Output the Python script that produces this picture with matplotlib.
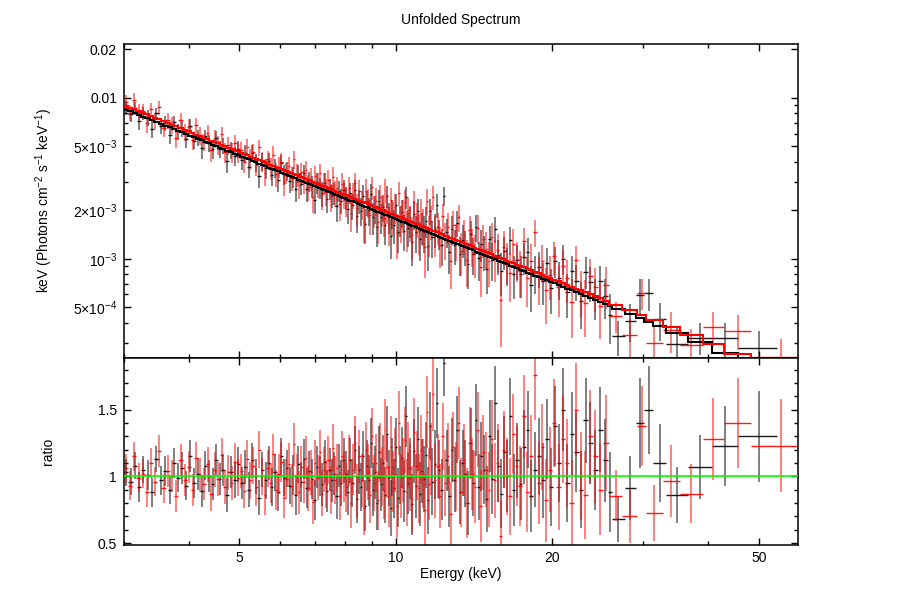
import matplotlib
matplotlib.use("Agg")
import matplotlib.pyplot as plt
from matplotlib.ticker import FixedLocator, FixedFormatter, LogLocator, MultipleLocator, NullFormatter
import numpy as np

plt.rcParams['font.family'] = ['Liberation Sans', 'DejaVu Sans']
plt.rcParams['mathtext.fontset'] = 'custom'
plt.rcParams['mathtext.rm'] = 'Liberation Sans'
plt.rcParams['mathtext.it'] = 'Liberation Sans:italic'
plt.rcParams['mathtext.bf'] = 'Liberation Sans:bold'
plt.rcParams['font.size'] = 10

# --- data ---
# black spectrum: bin edges (keV), data/model ratio, ratio error
blk_edges = [3.00, 3.06, 3.12, 3.18, 3.24, 3.30, 3.36, 3.43, 3.50, 3.57, 3.64, 3.71, 3.78, 3.85, 3.92,
             3.99, 4.06, 4.13, 4.20, 4.27, 4.34, 4.41, 4.48, 4.55, 4.62, 4.70, 4.78, 4.86, 4.94,
             5.02, 5.10, 5.18, 5.26, 5.34, 5.42, 5.50, 5.58, 5.66, 5.74, 5.82, 5.90, 5.98,
             6.06, 6.14, 6.22, 6.30, 6.38, 6.46, 6.54, 6.62, 6.70, 6.78, 6.86, 6.94,
             7.02, 7.10, 7.18, 7.26, 7.34, 7.42, 7.50, 7.58, 7.66, 7.74, 7.82, 7.90,
             7.98, 8.06, 8.14, 8.22, 8.30, 8.38, 8.46, 8.54, 8.62, 8.70, 8.78, 8.86, 8.94,
             9.02, 9.10, 9.18, 9.26, 9.34, 9.42, 9.50, 9.58, 9.66, 9.74, 9.82, 9.90, 9.98,
             10.07, 10.16, 10.25, 10.34, 10.43, 10.52, 10.61, 10.70, 10.80, 10.90, 11.00, 11.10,
             11.20, 11.30, 11.40, 11.50, 11.61, 11.72, 11.83, 11.94,
             12.05, 12.19, 12.33, 12.47, 12.62, 12.77, 12.92, 13.07, 13.22, 13.38, 13.54, 13.70,
             13.86, 14.02, 14.19, 14.36, 14.53, 14.71, 14.89, 15.07, 15.26, 15.45, 15.65, 15.85,
             16.06, 16.28, 16.51, 16.75, 17.0, 17.26, 17.53, 17.81, 18.1, 18.4, 18.71, 19.03,
             19.36, 19.7, 20.05, 20.42, 20.8, 21.2, 21.62, 22.05, 22.5, 22.97, 23.46, 23.97,
             24.5, 25.05, 25.6,
             26.1, 27.6, 29.0, 30.1, 31.3, 33.2, 36.5, 40.6, 45.7, 54.2]
blk_ratio = [1.03, 0.96, 1.08, 0.92, 1.05, 1.01, 0.88, 1.13, 0.97, 1.04, 0.90, 1.10, 0.99, 1.06, 0.93,
             1.15, 0.95, 1.02, 0.89, 1.08, 1.00, 0.94, 1.12, 0.98, 1.05, 0.86, 1.03, 0.97, 1.09,
             0.95, 1.07, 0.90, 1.12, 1.00, 0.84, 1.05, 0.97, 1.10, 0.92, 1.03, 0.88, 1.15, 0.99,
             1.06, 0.93, 1.01, 0.86, 1.09, 0.96, 1.13, 0.91, 1.04, 0.98, 0.82, 1.07, 1.00, 0.94,
             1.11, 0.89, 1.05, 0.97, 1.02, 0.85, 1.08, 0.95, 1.12,
             1.02, 0.88, 1.12, 0.95, 1.20, 0.83, 1.05, 0.92, 1.15, 0.78, 1.08, 0.97, 1.25, 0.90,
             1.03, 0.80, 1.18, 0.94, 1.10, 0.86, 1.32, 0.99, 0.76, 1.07, 0.91, 1.22, 0.84, 1.01,
             1.14, 0.89, 1.45, 0.95, 1.06, 0.79, 1.19, 0.93, 1.28, 0.87, 1.04, 0.98, 1.16, 0.82,
             1.38, 0.96, 1.09, 1.55,
             1.05, 0.90, 1.85, 1.12, 0.85, 1.20, 0.97, 1.35, 0.88, 1.10, 1.02, 0.80, 1.25, 0.95,
             1.42, 0.92, 1.15, 1.05, 0.83, 1.30, 0.98, 1.55, 1.08, 0.87, 1.18, 1.00, 1.45, 0.90,
             1.12, 0.94, 1.22, 1.35, 0.85, 1.05, 1.15, 0.97, 1.28, 0.92, 1.38, 1.10, 1.50, 0.95,
             1.32, 1.18, 0.90, 1.42, 1.25, 1.05, 1.35, 1.12, 0.88,
             0.68, 0.91, 1.40, 1.50, 1.10, 0.86, 1.07, 1.23, 1.30]
blk_err = [0.10, 0.10, 0.10, 0.11, 0.10, 0.11, 0.11, 0.10, 0.11, 0.11, 0.11, 0.11, 0.11, 0.12, 0.11,
           0.12, 0.11, 0.12, 0.12, 0.11, 0.12, 0.12, 0.12, 0.12, 0.12, 0.13, 0.12, 0.13, 0.13,
           0.12, 0.13, 0.13, 0.13, 0.13, 0.13, 0.13, 0.14, 0.13, 0.14, 0.14, 0.14, 0.14, 0.14,
           0.14, 0.14, 0.15, 0.15, 0.14, 0.15, 0.15, 0.15, 0.15, 0.15, 0.15, 0.16, 0.15, 0.16,
           0.16, 0.16, 0.16, 0.16, 0.16, 0.17, 0.16, 0.17, 0.17,
           0.17, 0.17, 0.17, 0.18, 0.18, 0.18, 0.18, 0.18, 0.19, 0.19, 0.19, 0.19, 0.19, 0.20,
           0.20, 0.20, 0.20, 0.20, 0.21, 0.21, 0.21, 0.21, 0.21, 0.22, 0.22, 0.22, 0.22, 0.22,
           0.23, 0.23, 0.23, 0.23, 0.23, 0.23, 0.24, 0.24, 0.24, 0.24, 0.24, 0.25, 0.25, 0.25,
           0.25, 0.25, 0.26, 0.26,
           0.22, 0.23, 0.25, 0.23, 0.23, 0.24, 0.24, 0.25, 0.24, 0.25, 0.25, 0.24, 0.26, 0.25,
           0.27, 0.25, 0.26, 0.26, 0.25, 0.27, 0.26, 0.28, 0.27, 0.26, 0.27, 0.27, 0.29, 0.27,
           0.28, 0.27, 0.28, 0.29, 0.27, 0.28, 0.29, 0.28, 0.30, 0.29, 0.30, 0.29, 0.31, 0.29,
           0.31, 0.30, 0.29, 0.32, 0.31, 0.30, 0.32, 0.31, 0.30,
           0.17, 0.24, 0.34, 0.33, 0.29, 0.21, 0.24, 0.30, 0.34]

# red spectrum
red_edges = [3.00, 3.05, 3.11, 3.17, 3.23, 3.29, 3.35, 3.41, 3.47, 3.54, 3.61, 3.68, 3.75, 3.82, 3.89,
             3.96, 4.03, 4.10, 4.17, 4.24, 4.31, 4.38, 4.45, 4.52, 4.59, 4.66, 4.73, 4.80, 4.87, 4.94,
             5.01, 5.08, 5.15, 5.22, 5.29, 5.36, 5.43, 5.50, 5.57, 5.64, 5.71, 5.78, 5.85, 5.92,
             5.99, 6.06, 6.13, 6.20, 6.27, 6.34, 6.41, 6.48, 6.55, 6.62, 6.69, 6.76, 6.83, 6.90,
             6.97, 7.04, 7.11, 7.18, 7.25, 7.32, 7.39, 7.46, 7.53, 7.60, 7.68, 7.76, 7.84, 7.92,
             8.00, 8.08, 8.16, 8.24, 8.32, 8.40, 8.48, 8.56, 8.64, 8.72, 8.80, 8.88, 8.96, 9.04,
             9.12, 9.20, 9.28, 9.36, 9.44, 9.52, 9.60, 9.68, 9.76, 9.84, 9.92, 10.00, 10.09, 10.18,
             10.27, 10.36, 10.45, 10.54, 10.63, 10.72, 10.82, 10.92, 11.02, 11.12, 11.22, 11.32,
             11.42, 11.53, 11.64, 11.75, 11.86,
             11.97, 12.11, 12.25, 12.39, 12.54, 12.69, 12.84, 12.99, 13.15, 13.31, 13.47, 13.63,
             13.79, 13.96, 14.13, 14.30, 14.48, 14.66, 14.84, 15.03, 15.22, 15.42, 15.62, 15.83,
             16.04, 16.26, 16.49, 16.73, 16.98, 17.24, 17.51, 17.79, 18.08, 18.38, 18.69, 19.01,
             19.34, 19.68, 20.03, 20.4, 20.78, 21.18, 21.6, 22.03, 22.48, 22.95, 23.44, 23.95,
             24.48, 25.02,
             25.8, 27.3, 29.2, 30.3, 32.7, 35.2, 39.0, 42.8, 48.4, 62.0]
red_ratio = [1.06, 0.93, 1.15, 0.99, 1.02, 0.88, 1.10, 0.96, 1.19, 0.91, 1.04, 1.00, 0.85, 1.12, 0.97,
             1.07, 0.90, 1.14, 1.01, 0.94, 1.09, 0.87, 1.05, 0.98, 1.16, 0.92, 1.03, 0.95, 1.11, 0.99,
             1.04, 0.89, 1.13, 0.97, 1.08, 0.92, 1.20, 1.00, 0.86, 1.06, 0.95, 1.17, 0.90, 1.02,
             1.11, 0.84, 0.98, 1.09, 0.93, 1.24, 1.01, 0.88, 1.07, 0.96, 1.14, 0.91, 1.03, 0.81,
             1.10, 0.99, 1.18, 0.87, 1.05, 0.94, 1.12, 0.90, 1.21, 0.97, 1.06, 0.85, 1.15, 1.00,
             0.92, 1.12, 0.80, 1.05, 1.25, 0.89, 1.15, 0.97, 0.76, 1.20, 1.03, 0.86, 1.30, 0.95,
             1.10, 0.82, 1.18, 1.00, 0.90, 1.35, 1.07, 0.85, 1.22, 0.96, 1.12, 0.78, 1.40, 0.93,
             1.05, 1.27, 0.88, 1.16, 0.99, 0.83, 1.33, 1.08, 0.91, 1.20, 1.02, 0.75, 1.48, 0.94,
             1.13, 1.62, 0.97,
             1.08, 0.85, 1.30, 0.95, 1.15, 0.72, 1.22, 1.00, 1.40, 0.88, 1.12, 0.80, 1.25, 1.02,
             0.92, 1.35, 0.78, 1.18, 1.05, 0.90, 1.28, 0.97, 1.10, 0.55, 1.20, 1.00, 0.85, 1.32,
             1.08, 0.93, 1.45, 0.88, 1.15, 1.76, 0.95, 1.22, 0.82, 1.05, 1.40, 0.92, 1.28, 1.10,
             0.80, 1.50, 1.00, 0.86, 1.30, 1.15, 0.90, 1.25,
             0.855, 0.70, 1.38, 0.725, 0.965, 0.87, 1.28, 1.40, 1.23]
red_err = [0.11, 0.11, 0.11, 0.11, 0.11, 0.11, 0.11, 0.11, 0.12, 0.11, 0.12, 0.12, 0.12, 0.12, 0.12,
           0.12, 0.12, 0.12, 0.13, 0.12, 0.13, 0.13, 0.13, 0.13, 0.13, 0.13, 0.13, 0.13, 0.14, 0.14,
           0.13, 0.13, 0.14, 0.14, 0.14, 0.14, 0.14, 0.14, 0.15, 0.14, 0.15, 0.15, 0.15, 0.15,
           0.15, 0.15, 0.15, 0.16, 0.16, 0.16, 0.16, 0.16, 0.16, 0.16, 0.16, 0.17, 0.17, 0.17,
           0.17, 0.17, 0.17, 0.17, 0.17, 0.18, 0.18, 0.18, 0.18, 0.18, 0.18, 0.18, 0.19, 0.19,
           0.19, 0.19, 0.19, 0.19, 0.20, 0.20, 0.20, 0.20, 0.20, 0.21, 0.21, 0.21, 0.21, 0.21,
           0.22, 0.22, 0.22, 0.22, 0.22, 0.23, 0.23, 0.23, 0.23, 0.23, 0.24, 0.24, 0.24, 0.24,
           0.24, 0.25, 0.25, 0.25, 0.25, 0.25, 0.26, 0.26, 0.26, 0.26, 0.26, 0.27, 0.27, 0.27,
           0.27, 0.28, 0.28,
           0.24, 0.24, 0.25, 0.25, 0.25, 0.24, 0.26, 0.26, 0.27, 0.26, 0.27, 0.26, 0.27, 0.27,
           0.27, 0.28, 0.27, 0.28, 0.28, 0.28, 0.29, 0.28, 0.29, 0.27, 0.29, 0.29, 0.29, 0.30,
           0.30, 0.30, 0.31, 0.30, 0.31, 0.34, 0.31, 0.32, 0.31, 0.32, 0.33, 0.32, 0.33, 0.33,
           0.32, 0.35, 0.33, 0.33, 0.35, 0.35, 0.34, 0.36,
           0.19, 0.20, 0.30, 0.21, 0.27, 0.22, 0.31, 0.34, 0.35]

# fitted power-law model: E*F(E) at 3 keV and log slope
e_ref = 3.0
blk_norm = 0.00855
red_norm = 0.0090
pl_slope = -1.31

assert len(blk_edges) == len(blk_ratio) + 1 == len(blk_err) + 1
assert len(red_edges) == len(red_ratio) + 1 == len(red_err) + 1


def draw_set(ax_top, ax_rat, edges, ratio, err, norm, col):
    edges = np.array(edges)
    ratio = np.array(ratio)
    err = np.array(err)
    lo, hi = edges[:-1], edges[1:]
    mid = 0.5 * (lo + hi)
    mod = norm * (np.sqrt(lo * hi) / e_ref) ** pl_slope
    ax_top.vlines(mid, mod * (ratio - err), mod * (ratio + err), color=col, lw=1.4, alpha=0.5, zorder=2)
    ax_top.hlines(mod * ratio, lo, hi, color=col, lw=1, alpha=0.9, zorder=2)
    ax_rat.vlines(mid, ratio - err, ratio + err, color=col, lw=1.4, alpha=0.5, zorder=2)
    ax_rat.hlines(ratio, lo, hi, color=col, lw=1, alpha=0.9, zorder=2)
    return mod


fig = plt.figure(figsize=(9.03, 6.06), dpi=100)
ax1 = fig.add_axes([0.1373, 0.410, 0.7464, 0.5168])
ax2 = fig.add_axes([0.1373, 0.1002, 0.7464, 0.3098], sharex=ax1)

blk_mod = draw_set(ax1, ax2, blk_edges, blk_ratio, blk_err, blk_norm, 'black')
red_mod = draw_set(ax1, ax2, red_edges, red_ratio, red_err, red_norm, '#ff0000')
ax1.stairs(blk_mod, blk_edges, color='black', lw=1.5, baseline=None, zorder=4)
ax1.stairs(red_mod, red_edges, color='#ff0000', lw=1.5, baseline=None, zorder=5)
ax2.axhline(1.0, color='#00ff00', lw=1.2, zorder=5)

ax1.set_xscale('log')
ax1.set_yscale('log')
ax1.set_xlim(3.0, 59.5)
ax1.set_ylim(2.43e-4, 0.0215)
ax2.set_ylim(0.483, 1.89)

ax1.yaxis.set_major_locator(FixedLocator([0.02, 0.01, 5e-3, 2e-3, 1e-3, 5e-4]))
ax1.yaxis.set_major_formatter(FixedFormatter(['0.02', '0.01', r'$5{\times}10^{-3}$', r'$2{\times}10^{-3}$',
                                              r'$10^{-3}$', r'$5{\times}10^{-4}$']))
ax1.yaxis.set_minor_locator(LogLocator(base=10, subs=np.arange(2, 10)))
ax1.yaxis.set_minor_formatter(NullFormatter())

ax2.xaxis.set_major_locator(FixedLocator([5, 10, 20, 50]))
ax2.xaxis.set_major_formatter(FixedFormatter(['5', '10', '20', '50']))
ax2.xaxis.set_minor_locator(FixedLocator([3, 4, 6, 7, 8, 9, 30, 40]))
ax2.xaxis.set_minor_formatter(NullFormatter())
ax2.yaxis.set_major_locator(FixedLocator([0.5, 1.0, 1.5]))
ax2.yaxis.set_major_formatter(FixedFormatter(['0.5', '1', '1.5']))
ax2.yaxis.set_minor_locator(MultipleLocator(0.1))
plt.setp(ax1.get_xticklabels(), visible=False)

for ax in (ax1, ax2):
    ax.tick_params(which='both', direction='in', top=True, right=True, width=1)
    ax.tick_params(which='major', length=4.8, pad=5, labelsize=10)
    ax.tick_params(which='minor', length=3)
    ax.tick_params(axis='x', which='major', pad=4)
    for sp in ax.spines.values():
        sp.set_linewidth(1.1)

ax1.set_title('Unfolded Spectrum', fontsize=10, pad=15)
ax1.set_ylabel(r'keV (Photons cm$^{-2}$ s$^{-1}$ keV$^{-1}$)', fontsize=10)
ax2.set_ylabel('ratio', fontsize=10)
ax2.set_xlabel('Energy (keV)', fontsize=10)
ax1.yaxis.set_label_coords(-0.103, 0.5)
ax2.yaxis.set_label_coords(-0.103, 0.5)
ax2.xaxis.set_label_coords(0.5, -0.115)

fig.savefig('out.png', dpi=100)
